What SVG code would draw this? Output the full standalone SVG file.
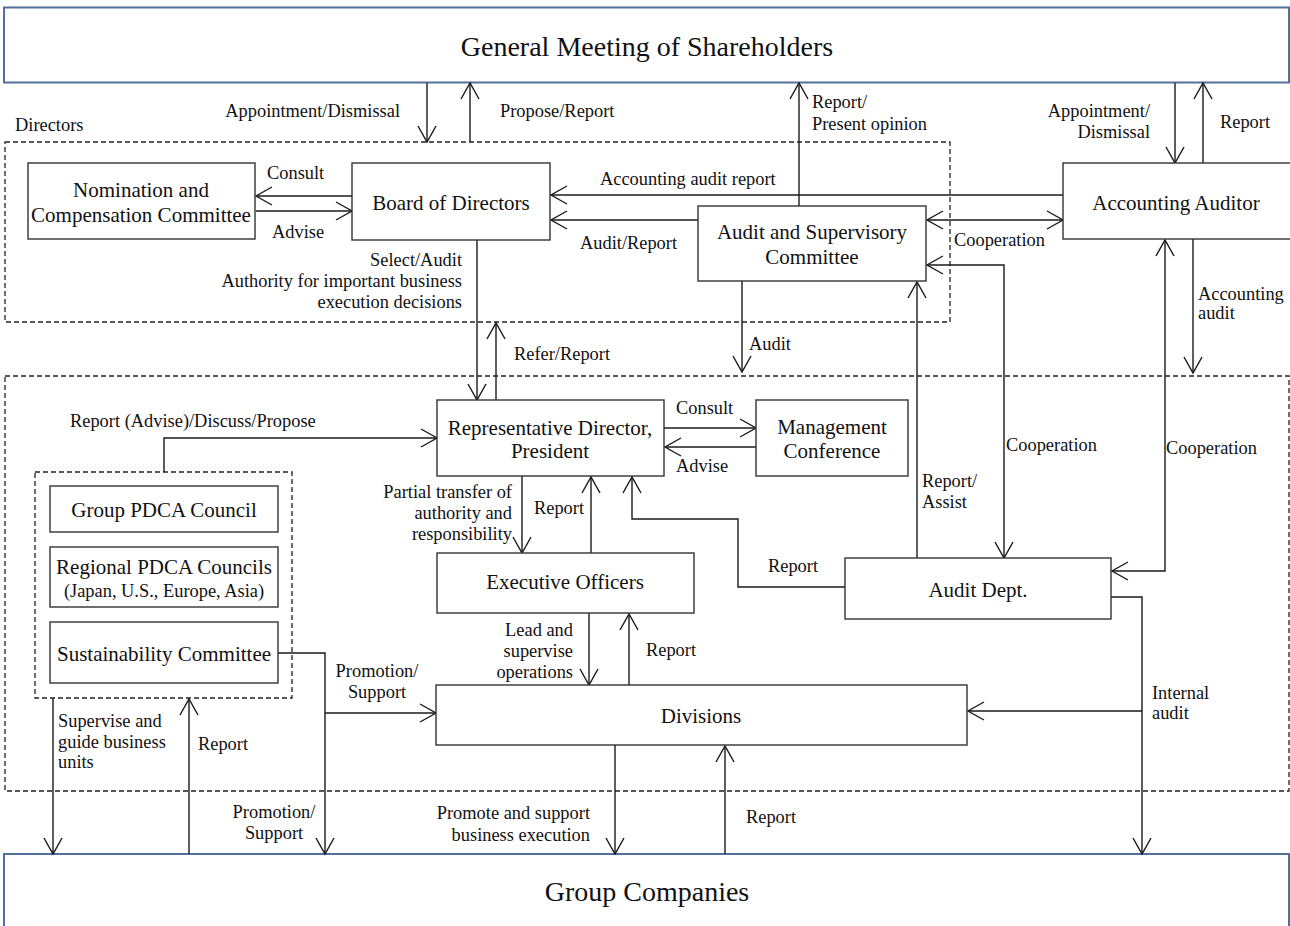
<svg xmlns="http://www.w3.org/2000/svg" width="1290" height="926" viewBox="0 0 1290 926">
<style>
text{font-family:"Liberation Serif","Times New Roman",serif;fill:#111}
.n{font-size:21px;text-anchor:middle}
.big{font-size:28px;text-anchor:middle}
.l{font-size:18.4px}
.e{text-anchor:end}
.m{text-anchor:middle}
.box{fill:#fff;stroke:#333;stroke-width:1.4}
.outer{fill:#fff;stroke:#52709c;stroke-width:2}
.dash{fill:none;stroke:#222;stroke-width:1.3;stroke-dasharray:5 3}
.c{fill:none;stroke:#1a1a1a;stroke-width:1.4}
.a{marker-end:url(#arr)}
.b{marker-start:url(#arr);marker-end:url(#arr)}
</style>
<defs>
<marker id="arr" viewBox="-18 -11 20 22" refX="0" refY="0" markerWidth="20" markerHeight="22" markerUnits="userSpaceOnUse" orient="auto-start-reverse">
<path d="M-16,-9 L0,0 L-16,9" fill="none" stroke="#1a1a1a" stroke-width="1.4"/>
</marker>
</defs>
<rect width="1290" height="926" fill="#fff"/>

<g id="groups">
<rect class="dash" x="5" y="142" width="945" height="180"/>
<text class="l" x="15" y="131">Directors</text>
<rect class="dash" x="5" y="376" width="1284" height="415"/>
<rect class="dash" x="35" y="472" width="257" height="226"/>
</g>

<g id="gms">
<rect class="outer" x="4" y="7.5" width="1285" height="75"/>
<text class="big" x="647" y="56">General Meeting of Shareholders</text>
</g>
<g id="group-companies">
<rect class="outer" x="4" y="854" width="1285" height="80"/>
<text class="big" x="647" y="901">Group Companies</text>
</g>

<g id="connectors">
<path class="c a" d="M427,83V142"/>
<path class="c a" d="M470,142V83"/>
<path class="c a" d="M799,206V83"/>
<path class="c a" d="M1175,83V163"/>
<path class="c a" d="M1203,163V83"/>
<path class="c a" d="M352,196H256"/>
<path class="c a" d="M256,211H352"/>
<path class="c a" d="M1063,195H551"/>
<path class="c a" d="M698,220H551"/>
<path class="c b" d="M927,220H1063"/>
<path class="c b" d="M927,265H1004V558"/>
<path class="c a" d="M917,558V282"/>
<path class="c a" d="M742,281V372"/>
<path class="c a" d="M1193,239V373"/>
<path class="c b" d="M1165,240V571H1112"/>
<path class="c a" d="M1111,597H1142V854"/>
<path class="c a" d="M1142,711H968"/>
<path class="c a" d="M845,587H738V519H632V477"/>
<path class="c a" d="M477,240V400"/>
<path class="c a" d="M496,400V323"/>
<path class="c a" d="M664,428H756"/>
<path class="c a" d="M756,447H665"/>
<path class="c a" d="M164,472V438H437"/>
<path class="c a" d="M522,476V553"/>
<path class="c a" d="M591,553V477"/>
<path class="c a" d="M589,613V685"/>
<path class="c a" d="M629,685V614"/>
<path class="c a" d="M278,653H325V854"/>
<path class="c a" d="M325,713H436"/>
<path class="c a" d="M53,698V854"/>
<path class="c a" d="M189,854V699"/>
<path class="c a" d="M615,745V854"/>
<path class="c a" d="M725,854V746"/>
</g>

<g id="labels">
<text class="l e" x="400" y="117">Appointment/Dismissal</text>
<text class="l" x="500" y="117">Propose/Report</text>
<text class="l" x="812" y="108">Report/</text>
<text class="l" x="812" y="130">Present opinion</text>
<text class="l e" x="1150" y="117">Appointment/</text>
<text class="l e" x="1150" y="138">Dismissal</text>
<text class="l" x="1220" y="128">Report</text>
<text class="l" x="267" y="179">Consult</text>
<text class="l" x="272" y="238">Advise</text>
<text class="l" x="600" y="185">Accounting audit report</text>
<text class="l" x="580" y="249">Audit/Report</text>
<text class="l e" x="462" y="266">Select/Audit</text>
<text class="l e" x="462" y="287">Authority for important business</text>
<text class="l e" x="462" y="308">execution decisions</text>
<text class="l" x="954" y="246">Cooperation</text>
<text class="l" x="1198" y="300">Accounting</text>
<text class="l" x="1198" y="319">audit</text>
<text class="l" x="514" y="360">Refer/Report</text>
<text class="l" x="749" y="350">Audit</text>
<text class="l" x="70" y="427">Report (Advise)/Discuss/Propose</text>
<text class="l" x="676" y="414">Consult</text>
<text class="l" x="676" y="472">Advise</text>
<text class="l" x="1006" y="451">Cooperation</text>
<text class="l" x="1166" y="454">Cooperation</text>
<text class="l" x="922" y="487">Report/</text>
<text class="l" x="922" y="508">Assist</text>
<text class="l e" x="512" y="498">Partial transfer of</text>
<text class="l e" x="512" y="519">authority and</text>
<text class="l e" x="512" y="540">responsibility</text>
<text class="l" x="534" y="514">Report</text>
<text class="l" x="768" y="572">Report</text>
<text class="l e" x="573" y="636">Lead and</text>
<text class="l e" x="573" y="657">supervise</text>
<text class="l e" x="573" y="678">operations</text>
<text class="l" x="646" y="656">Report</text>
<text class="l m" x="377" y="677">Promotion/</text>
<text class="l m" x="377" y="698">Support</text>
<text class="l" x="58" y="727">Supervise and</text>
<text class="l" x="58" y="748">guide business</text>
<text class="l" x="58" y="768">units</text>
<text class="l" x="198" y="750">Report</text>
<text class="l m" x="274" y="818">Promotion/</text>
<text class="l m" x="274" y="839">Support</text>
<text class="l e" x="590" y="819">Promote and support</text>
<text class="l e" x="590" y="841">business execution</text>
<text class="l" x="746" y="823">Report</text>
<text class="l" x="1152" y="699">Internal</text>
<text class="l" x="1152" y="719">audit</text>
</g>

<g id="nomination">
<rect class="box" x="28" y="163" width="227" height="76"/>
<text class="n" x="141" y="197">Nomination and</text>
<text class="n" x="141" y="222">Compensation Committee</text>
</g>
<g id="board">
<rect class="box" x="352" y="163" width="198" height="77"/>
<text class="n" x="451" y="210">Board of Directors</text>
</g>
<g id="audit-committee">
<rect class="box" x="698" y="206" width="228" height="75"/>
<text class="n" x="812" y="239">Audit and Supervisory</text>
<text class="n" x="812" y="264">Committee</text>
</g>
<g id="accounting-auditor">
<rect class="box" x="1063" y="163" width="230" height="76"/>
<text class="n" x="1176" y="210">Accounting Auditor</text>
</g>
<g id="president">
<rect class="box" x="437" y="400" width="227" height="76"/>
<text class="n" x="550" y="435">Representative Director,</text>
<text class="n" x="550" y="458">President</text>
</g>
<g id="management-conference">
<rect class="box" x="756" y="400" width="152" height="76"/>
<text class="n" x="832" y="434">Management</text>
<text class="n" x="832" y="458">Conference</text>
</g>
<g id="group-pdca">
<rect class="box" x="50" y="486" width="228" height="46"/>
<text class="n" x="164" y="517">Group PDCA Council</text>
</g>
<g id="regional-pdca">
<rect class="box" x="50" y="547" width="228" height="60"/>
<text class="n" x="164" y="574">Regional PDCA Councils</text>
<text class="l m" x="164" y="597">(Japan, U.S., Europe, Asia)</text>
</g>
<g id="sustainability">
<rect class="box" x="50" y="622" width="228" height="61"/>
<text class="n" x="164" y="661">Sustainability Committee</text>
</g>
<g id="executive-officers">
<rect class="box" x="437" y="553" width="257" height="60"/>
<text class="n" x="565" y="589">Executive Officers</text>
</g>
<g id="audit-dept">
<rect class="box" x="845" y="558" width="266" height="61"/>
<text class="n" x="978" y="597">Audit Dept.</text>
</g>
<g id="divisions">
<rect class="box" x="436" y="685" width="531" height="60"/>
<text class="n" x="701" y="723">Divisions</text>
</g>
</svg>
